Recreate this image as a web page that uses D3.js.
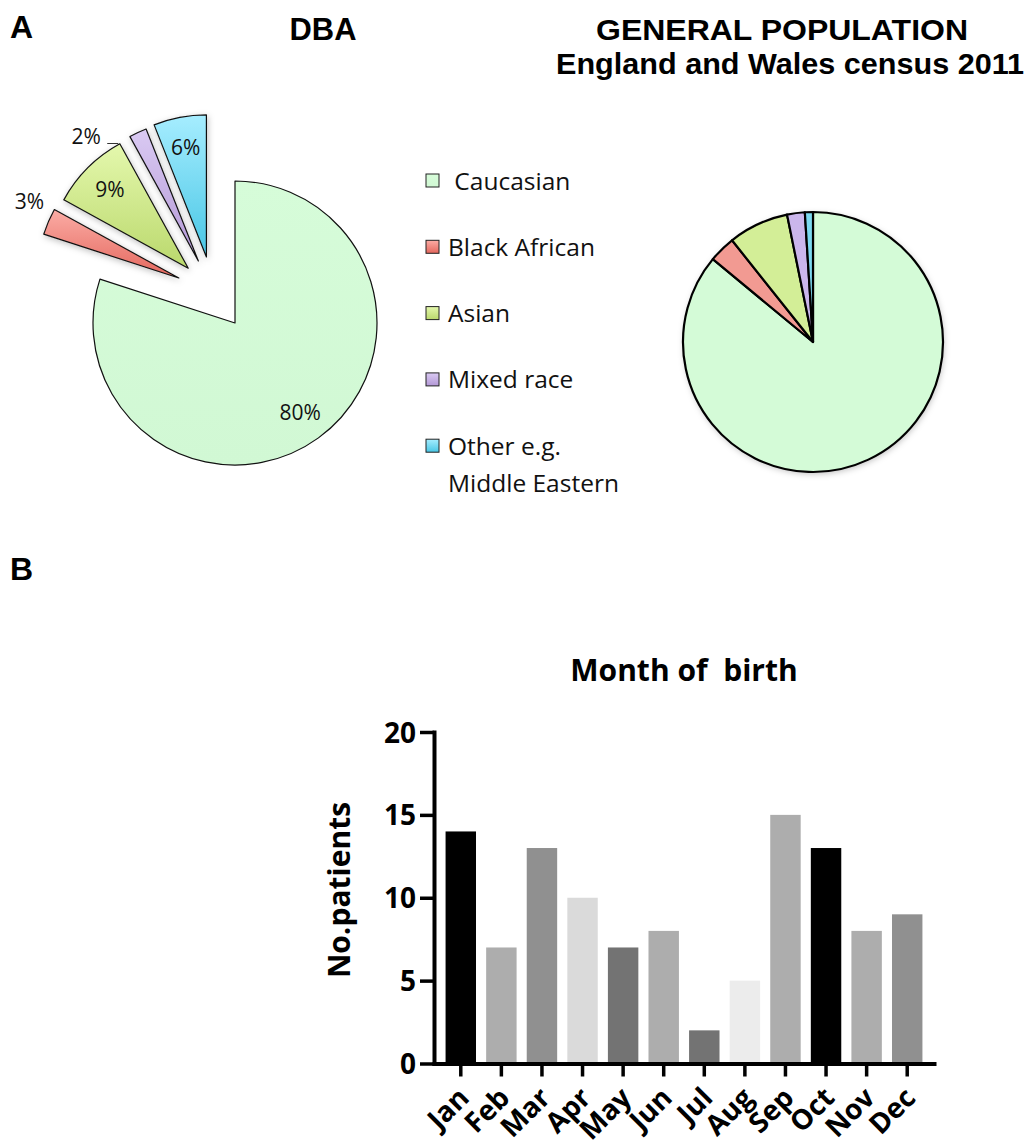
<!DOCTYPE html>
<html>
<head>
<meta charset="utf-8">
<script src="https://cdn.jsdelivr.net/npm/d3@7"></script>
<style>
  body { margin: 0; background: #fff; }
  svg { display: block; }
</style>
</head>
<body>
<div id="chart"></div>
<script>
var W = 1029,
    H = 1148;

// ethnic groups, same order in both pies and the legend
var groups = ["Caucasian", "Black African", "Asian", "Mixed race", "Other e.g. Middle Eastern"];
var dbaShare = [80, 3, 9, 2, 6];             // % of DBA patients
var censusShare = [86.0, 3.3, 7.5, 2.2, 1.0]; // % England and Wales census 2011

var months = ["Jan", "Feb", "Mar", "Apr", "May", "Jun", "Jul", "Aug", "Sep", "Oct", "Nov", "Dec"];
var patients = [14, 7, 13, 10, 7, 8, 2, 5, 15, 13, 8, 9];
var yTicks = [0, 5, 10, 15, 20];

// styles
var sliceTop = ["#d6fcd9", "#fbaca5", "#e4f8ad", "#dacaf3", "#a6edff"];
var sliceBottom = ["#d1f8d4", "#e4675d", "#bad86c", "#b398d6", "#48c6e5"];
var sliceFlat = ["#d4fbd7", "#f29a92", "#d3ee97", "#cbb6ec", "#7cd9f0"];
var barFill = ["#000000", "#adadad", "#909090", "#dadada", "#737373", "#adadad",
               "#737373", "#ececec", "#adadad", "#000000", "#adadad", "#909090"];

var svg = d3.select("#chart").append("svg")
    .attr("width", W)
    .attr("height", H)
    .attr("viewBox", "0 0 " + W + " " + H);

var defs = svg.append("defs");
groups.forEach(function(g, i) {
	var lg = defs.append("linearGradient")
		.attr("id", "grad" + i)
		.attr("x1", 0).attr("y1", 0).attr("x2", 0).attr("y2", 1);
	lg.append("stop").attr("offset", "0%").attr("stop-color", sliceTop[i]);
	lg.append("stop").attr("offset", "100%").attr("stop-color", sliceBottom[i]);
});
var shadow = defs.append("filter").attr("id", "shadow")
	.attr("x", "-20%").attr("y", "-20%").attr("width", "140%").attr("height", "140%");
shadow.append("feDropShadow")
	.attr("dx", 1).attr("dy", 2).attr("stdDeviation", 3)
	.attr("flood-color", "#000").attr("flood-opacity", 0.25);

// ---------- panel titles ----------
var bold = "'Liberation Sans', Arial, sans-serif";
function heading(txt, x, y, anchor, len, size) {
	var t = svg.append("text")
		.attr("x", x).attr("y", y)
		.attr("text-anchor", anchor)
		.attr("font-family", bold)
		.attr("font-weight", "bold")
		.attr("font-size", (size || 31) + "px")
		.text(txt);
	if (len) t.attr("textLength", len).attr("lengthAdjust", "spacingAndGlyphs");
	return t;
}
heading("A", 10, 38, "start", null, 32);
heading("DBA", 323, 40, "middle", 67);
heading("GENERAL POPULATION", 782, 40, "middle", 372, 30);
heading("England and Wales census 2011", 790, 74, "middle", 468, 30);
heading("B", 10, 580, "start", null, 32);

// ---------- DBA exploded pie ----------
var pie = d3.pie().sort(null).value(function(d) { return d.v; });
function polar(a, r) { return [r * Math.sin(a), -r * Math.cos(a)]; }

var rL = 142;
var dbaArcs = pie(groups.map(function(g, i) { return { g: g, v: dbaShare[i], i: i }; }));
var rest = dbaArcs.slice(1);
var groupMid = (rest[0].startAngle + rest[rest.length - 1].endAngle) / 2;
dbaArcs.forEach(function(d) {
	d.mid = (d.startAngle + d.endAngle) / 2;
	d.off = d.index === 0 ? [0, 0] : polar((d.mid + groupMid) / 2, 72);
});

var arcL = d3.arc().innerRadius(0).outerRadius(rL);
var gL = svg.append("g").attr("transform", "translate(235,323)");

gL.selectAll(".sliceL")
	.data(dbaArcs)
	.enter().append("path")
	.attr("class", "sliceL")
	.attr("transform", function(d) { return "translate(" + d.off + ")"; })
	.attr("d", arcL)
	.attr("fill", function(d) { return "url(#grad" + d.data.i + ")"; })
	.attr("stroke", "#111")
	.attr("stroke-width", 1.2)
	.attr("stroke-linejoin", "round")
	.attr("filter", function(d) { return d.index === 0 ? null : "url(#shadow)"; });

var deg = Math.PI / 180;
dbaArcs.forEach(function(d) {
	var p, inside = d.data.v >= 5;
	if (inside) {
		p = polar(d.mid, 0.78 * rL);
	} else {
		var a = Math.max(297 * deg, Math.min(318 * deg, d.mid));
		p = polar(a, 1.18 * rL);
		if (d.mid > 318 * deg) {
			gL.append("line")
				.attr("x1", p[0] + d.off[0] + 21).attr("x2", p[0] + d.off[0] + 32)
				.attr("y1", p[1] + d.off[1] + 7).attr("y2", p[1] + d.off[1] + 7)
				.attr("stroke", "#333").attr("stroke-width", 1);
		}
	}
	gL.append("text")
		.attr("x", p[0] + d.off[0])
		.attr("y", p[1] + d.off[1])
		.attr("dy", "0.35em")
		.attr("text-anchor", "middle")
		.attr("font-family", "'Open Sans', sans-serif")
		.attr("font-size", "21px")
		.attr("fill", "#111")
		.text(d.data.v + "%");
});

// ---------- legend ----------
var legend = svg.append("g").attr("transform", "translate(426,181)");
var item = legend.selectAll(".leg")
	.data(groups)
	.enter().append("g")
	.attr("class", "leg")
	.attr("transform", function(d, i) { return "translate(0," + (i * 66.3) + ")"; });
item.append("rect")
	.attr("x", 0).attr("y", -7)
	.attr("width", 13).attr("height", 13)
	.attr("fill", function(d, i) { return "url(#grad" + i + ")"; })
	.attr("stroke", "#222")
	.attr("stroke-width", 1);
item.append("text")
	.attr("font-family", "'Open Sans', sans-serif")
	.attr("font-size", "24.5px")
	.attr("fill", "#111")
	.style("white-space", "pre")
	.each(function(d, i) {
		var lines = d.replace("e.g. ", "e.g.\n").split("\n");
		var t = d3.select(this);
		lines.forEach(function(line, j) {
			t.append("tspan")
				.attr("x", 22)
				.attr("y", j * 37)
				.attr("dy", "0.35em")
				.text((i === 0 ? " " : "") + line);
		});
	});

// ---------- census pie ----------
var rR = 130;
var censusArcs = pie(groups.map(function(g, i) { return { g: g, v: censusShare[i], i: i }; }));
var arcR = d3.arc().innerRadius(0).outerRadius(rR);
var gR = svg.append("g").attr("transform", "translate(813,342)");
gR.append("circle").attr("r", rR).attr("fill", "#fff").attr("filter", "url(#shadow)");
gR.selectAll(".sliceR")
	.data(censusArcs)
	.enter().append("path")
	.attr("class", "sliceR")
	.attr("d", arcR)
	.attr("fill", function(d) { return sliceFlat[d.data.i]; })
	.attr("stroke", "#000")
	.attr("stroke-width", 2.2)
	.attr("stroke-linejoin", "round");

// ---------- month of birth bars ----------
var x = d3.scaleBand()
	.domain(months)
	.range([434, 934])
	.paddingInner(0.25)
	.paddingOuter(0.285);
var y = d3.scaleLinear()
	.domain([0, 20])
	.range([1063.5, 732]);

var font = "'Open Sans', sans-serif";

svg.append("g").selectAll(".bar")
	.data(patients)
	.enter().append("rect")
	.attr("class", "bar")
	.attr("x", function(d, i) { return x(months[i]); })
	.attr("y", function(d) { return y(d); })
	.attr("width", x.bandwidth())
	.attr("height", function(d) { return y(0) - y(d); })
	.attr("fill", function(d, i) { return barFill[i]; });

var yAxis = svg.append("g")
	.attr("transform", "translate(434,0)")
	.call(d3.axisLeft(y).tickValues(yTicks).tickSize(14).tickSizeOuter(0).tickPadding(4));
var xAxis = svg.append("g")
	.attr("transform", "translate(0," + y(0) + ")")
	.call(d3.axisBottom(x).tickSize(13).tickSizeOuter(0));

[yAxis, xAxis].forEach(function(a) {
	a.select(".domain").attr("stroke", "#000").attr("stroke-width", 4).attr("stroke-linecap", "square");
	a.selectAll(".tick line").attr("stroke", "#000").attr("stroke-width", 3.5);
	a.selectAll("text")
		.attr("fill", "#000")
		.attr("font-family", font)
		.attr("font-weight", "bold");
});
yAxis.selectAll("text").attr("font-size", "28px").attr("dy", "0.36em");
xAxis.selectAll("text")
	.attr("font-size", "28px")
	.attr("x", 0).attr("y", 0).attr("dy", 0)
	.attr("text-anchor", "end")
	.attr("transform", "translate(10,36) rotate(-45)");

svg.append("text")
	.attr("x", 684).attr("y", 681)
	.attr("text-anchor", "middle")
	.attr("font-family", font)
	.attr("font-weight", "bold")
	.attr("font-size", "30px")
	.style("white-space", "pre")
	.text("Month of  birth");

svg.append("text")
	.attr("transform", "translate(350,890) rotate(-90)")
	.attr("text-anchor", "middle")
	.attr("font-family", font)
	.attr("font-weight", "bold")
	.attr("font-size", "30px")
	.text("No.patients");
</script>
</body>
</html>
